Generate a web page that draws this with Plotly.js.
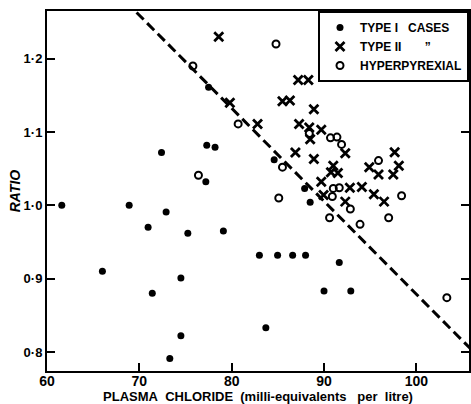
<!DOCTYPE html>
<html>
<head>
<meta charset="utf-8">
<script src="https://cdn.plot.ly/plotly-3.0.1.min.js"></script>
<style>html,body{margin:0;padding:0;background:#fff;}#chart{width:471px;height:404px;}</style>
</head>
<body>
<div id="chart"></div>
<script>
// Type I cases (filled dots)
var type1X = [61.6, 68.9, 72.9, 70.95, 75.25, 79.1, 83.0, 66.0, 74.5, 71.4, 74.5, 73.3, 72.4, 77.3, 78.2, 77.2, 77.5, 84.6, 87.9, 88.5, 84.97, 86.6, 88.0, 91.65, 90.0, 92.9, 83.7];
var type1Y = [1.000, 1.000, 0.991, 0.970, 0.962, 0.965, 0.932, 0.910, 0.901, 0.880, 0.822, 0.791, 1.072, 1.082, 1.079, 1.032, 1.161, 1.062, 1.023, 1.004, 0.932, 0.932, 0.932, 0.922, 0.883, 0.883, 0.833];
// Type II cases (crosses)
var type2X = [78.6, 79.8, 82.8, 85.5, 86.3, 87.2, 88.3, 88.9, 87.3, 88.4, 89.7, 88.5, 92.3, 86.9, 88.9, 91.0, 90.75, 91.5, 89.7, 92.8, 94.1, 89.95, 95.4, 96.5, 92.3, 97.65, 98.1, 97.5, 94.9, 95.9];
var type2Y = [1.230, 1.140, 1.111, 1.142, 1.143, 1.171, 1.171, 1.131, 1.111, 1.106, 1.103, 1.090, 1.071, 1.072, 1.063, 1.054, 1.045, 1.044, 1.032, 1.024, 1.025, 1.014, 1.015, 1.005, 1.005, 1.0725, 1.054, 1.042, 1.052, 1.042];
// Hyperpyrexial (open circles)
var hyperX = [75.8, 80.7, 84.8, 76.4, 88.4, 90.7, 91.4, 91.9, 85.5, 91.0, 91.65, 90.9, 92.85, 85.1, 90.6, 93.9, 97.0, 98.4, 95.9, 103.3];
var hyperY = [1.190, 1.111, 1.220, 1.041, 1.098, 1.092, 1.093, 1.083, 1.052, 1.023, 1.024, 1.012, 0.995, 1.010, 0.983, 0.974, 0.983, 1.013, 1.061, 0.874];
// Dividing line
var lineX = [69.7, 105.85];
var lineY = [1.263, 0.8045];
// Tick labels
var xTickVals = [60, 70, 80, 90, 100];
var xTickText = ["60", "70", "80", "90", "100"];
var yTickVals = [0.8, 0.9, 1.0, 1.1, 1.2];
var yTickText = ["0\u00B78", "0\u00B79", "1\u00B70", "1\u00B71", "1\u00B72"];

var FONT = "Liberation Sans, Arial, sans-serif";
var traces = [
  {x: lineX, y: lineY, mode: "lines", showlegend: false, hoverinfo: "skip",
   line: {color: "#000", width: 3, dash: "10px,5px"}},
  {x: type1X, y: type1Y, mode: "markers", name: "TYPE I\u00A0\u00A0\u00A0CASES",
   marker: {symbol: "circle", size: 7, color: "#000"}},
  {x: type2X, y: type2Y, mode: "markers", name: "TYPE II\u00A0\u00A0\u00A0\u00A0\u00A0\u00A0\u00A0\u201D",
   marker: {symbol: "x-thin-open", size: 9, color: "#000", line: {color: "#000", width: 2.8}}},
  {x: hyperX, y: hyperY, mode: "markers", name: "HYPERPYREXIAL",
   marker: {symbol: "circle-open", size: 7, color: "#000", line: {color: "#000", width: 2}}}
];

var layout = {
  width: 471, height: 404,
  margin: {l: 47, r: 2, t: 11, b: 33},
  paper_bgcolor: "#fff", plot_bgcolor: "#fff",
  font: {family: FONT, color: "#000", size: 12},
  showlegend: true,
  legend: {x: 1, xanchor: "right", y: 1, yanchor: "top", bgcolor: "#fff",
           bordercolor: "#000", borderwidth: 2,
           font: {family: FONT, size: 12, weight: "bold", color: "#000"},
           itemwidth: 30, tracegroupgap: 0},
  xaxis: {range: [60, 105.7], tickvals: xTickVals, ticktext: xTickText,
          ticks: "inside", ticklen: 8, tickwidth: 2, tickcolor: "#000",
          showline: true, linecolor: "#000", linewidth: 2, mirror: true,
          showgrid: false, zeroline: false, ticklabelstandoff: -4,
          tickfont: {family: FONT, size: 14, weight: "bold"},
          title: {text: "PLASMA\u00A0\u00A0CHLORIDE\u00A0\u00A0(milli-equivalents\u00A0\u00A0\u00A0per\u00A0\u00A0litre)", standoff: 0,
                  font: {family: FONT, size: 13, weight: "bold"}}},
  yaxis: {range: [0.774, 1.265], tickvals: yTickVals, ticktext: yTickText,
          ticks: "inside", ticklen: 8, tickwidth: 2, tickcolor: "#000",
          showline: true, linecolor: "#000", linewidth: 2, mirror: "ticks",
          showgrid: false, zeroline: false,
          tickfont: {family: FONT, size: 13, weight: "bold"},
          title: {text: "<i>RATIO</i>", standoff: 0,
                  font: {family: FONT, size: 14, weight: "bold"}}}
};
Plotly.newPlot("chart", traces, layout, {displayModeBar: false, staticPlot: true});
</script>
</body>
</html>
